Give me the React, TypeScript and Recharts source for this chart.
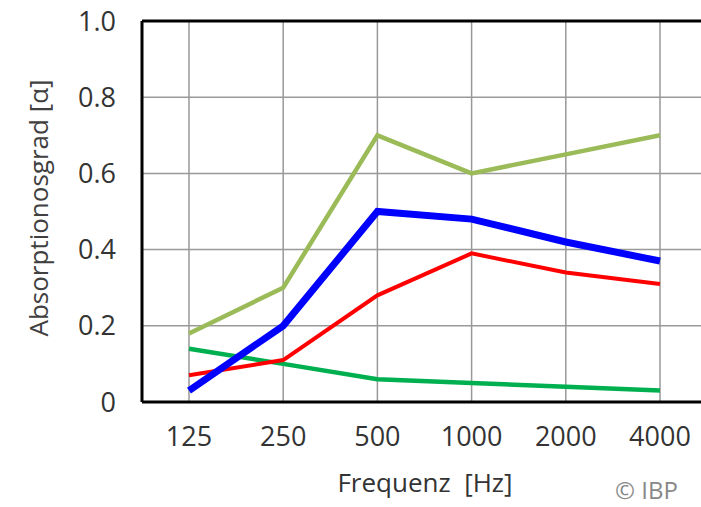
import React from "react";
import { LineChart, Line, XAxis, YAxis, CartesianGrid, ReferenceLine, Label } from "recharts";

const frequencies = ["125", "250", "500", "1000", "2000", "4000"];
const olive = [0.18, 0.3, 0.7, 0.6, 0.65, 0.7];
const blue = [0.03, 0.2, 0.5, 0.48, 0.42, 0.37];
const red = [0.07, 0.11, 0.28, 0.39, 0.34, 0.31];
const green = [0.14, 0.1, 0.06, 0.05, 0.04, 0.03];
const yTicks = [0, 0.2, 0.4, 0.6, 0.8, 1.0];

const data = frequencies.map((f, i) => ({
  f,
  olive: olive[i],
  blue: blue[i],
  red: red[i],
  green: green[i],
}));

const FONT = "'Open Sans', 'Noto Sans', sans-serif";

const fmt = (v: number) => (v === 0 ? "0" : v.toFixed(1));

export default function App() {
  return (
    <div
      style={{
        position: "fixed",
        left: 0,
        top: 0,
        width: 701,
        height: 507,
        overflow: "hidden",
        background: "#fff",
        fontFamily: FONT,
      }}
    >
      <LineChart
        width={740}
        height={507}
        data={data}
        margin={{ top: 21, right: 33, bottom: 45, left: 0 }}
      >
        <CartesianGrid stroke="#999" strokeWidth={1.5} />
        <XAxis
          dataKey="f"
          height={60}
          padding={{ left: 47, right: 47 }}
          axisLine={{ stroke: "#000", strokeWidth: 3 }}
          tickLine={false}
          tickSize={0}
          tickMargin={25}
          interval={0}
          tick={{ fill: "#333", fontSize: 27, fontFamily: FONT }}
        >
          <Label
            content={() => (
              <g>
                <text
                  x={425}
                  y={492}
                  textAnchor="middle"
                  fill="#333"
                  fontSize={26}
                  fontFamily={FONT}
                  style={{ whiteSpace: "pre" }}
                >
                  {"Frequenz  [Hz]"}
                </text>
                <text x={615} y={499} fill="#888" fontSize={24} fontFamily={FONT}>
                  © IBP
                </text>
              </g>
            )}
          />
        </XAxis>
        <YAxis
          type="number"
          domain={[0, 1]}
          ticks={yTicks}
          width={142}
          axisLine={{ stroke: "#000", strokeWidth: 3 }}
          tickLine={false}
          tickSize={0}
          tickMargin={26}
          tickFormatter={fmt}
          tick={{ fill: "#333", fontSize: 27, fontFamily: FONT }}
        >
          <Label
            content={() => {
              const cy = 208;
              return (
                <text
                  x={48}
                  y={cy}
                  transform={`rotate(-90, 48, ${cy})`}
                  textAnchor="middle"
                  fill="#404040"
                  fontSize={26}
                  fontFamily={FONT}
                >
                  Absorptionosgrad [α]
                </text>
              );
            }}
          />
        </YAxis>
        <ReferenceLine y={1} stroke="#000" strokeWidth={3} ifOverflow="extendDomain" />
        <Line type="linear" dataKey="olive" stroke="#9BBB59" strokeWidth={4.5} dot={false} isAnimationActive={false} />
        <Line type="linear" dataKey="green" stroke="#00B050" strokeWidth={4.5} dot={false} isAnimationActive={false} />
        <Line type="linear" dataKey="red" stroke="#FF0000" strokeWidth={4} dot={false} isAnimationActive={false} />
        <Line type="linear" dataKey="blue" stroke="#0000FF" strokeWidth={7} dot={false} isAnimationActive={false} />
      </LineChart>
    </div>
  );
}
